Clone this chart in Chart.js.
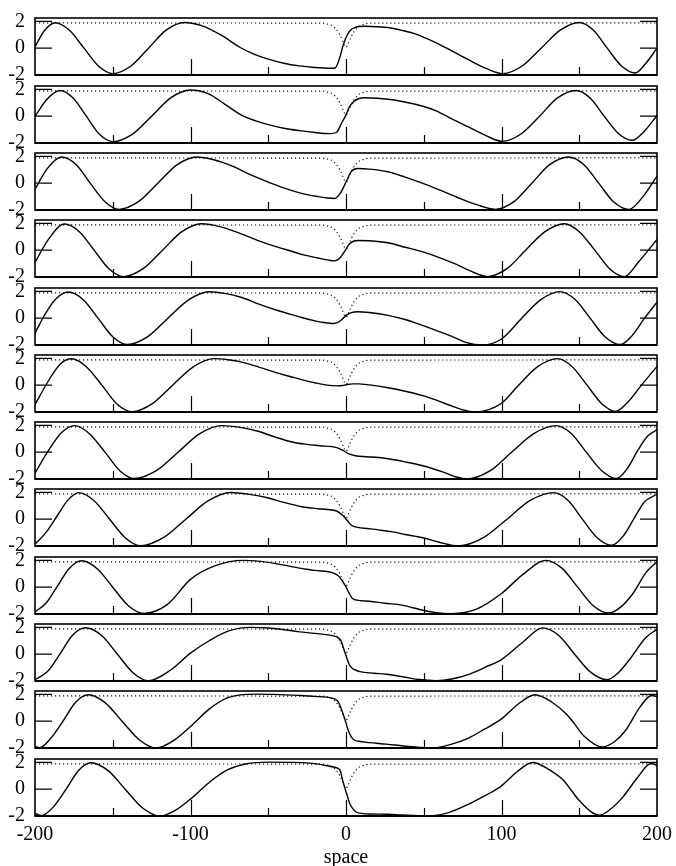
<!DOCTYPE html>
<html>
<head>
<meta charset="utf-8">
<script src="https://cdn.jsdelivr.net/npm/chart.js@4.4.1/dist/chart.umd.min.js"></script>
<style>
  body { margin: 0; background: #fff; }
  #wrap { position: relative; width: 676px; height: 866px; overflow: hidden; }
  #wrap canvas { position: absolute; left: 0; background: transparent; }
</style>
</head>
<body>
<div id="wrap"></div>
<script>
// solid curve of each panel (x = space, y = value)
const pos1 = [-200, -194, -187, -178, -168.5, -159, -150, -138.5, -127, -115.5, -104, -92, -80, -68, -60, -50, -40, -30, -20, -10, -7, -4, -2, 0, 2.5, 5.5, 12, 20, 28, 36, 45, 58, 68, 79, 90, 101, 113, 125.5, 138, 150, 159, 168, 177, 186, 193, 200];
const val1 = [0.1, 1.3, 1.9, 1.35, 0, -1.35, -1.9, -1.35, 0, 1.36, 1.92, 1.65, 0.95, 0.05, -0.4, -0.82, -1.12, -1.32, -1.44, -1.5, -1.48, -0.7, 0.15, 0.8, 1.3, 1.53, 1.63, 1.6, 1.52, 1.33, 1.05, 0.4, -0.2, -0.88, -1.5, -1.9, -1.35, 0, 1.36, 1.92, 1.36, 0, -1.31, -1.85, -1.1, 0];

const pos2 = [-200, -192, -184, -175.5, -167, -158.5, -150, -137.5, -125, -112.5, -100, -88, -78, -66, -58, -50, -40, -30, -20, -10, -6, -3, 0, 2, 5, 8, 12, 20, 30, 40, 50, 58, 68, 79, 90, 100.5, 112.5, 124.5, 136, 148, 157, 166, 175, 184, 192, 200];
const val2 = [0, 1.3, 1.92, 1.36, 0, -1.35, -1.9, -1.36, 0, 1.38, 1.95, 1.65, 0.9, 0, -0.35, -0.63, -0.9, -1.08, -1.22, -1.3, -1.2, -0.55, 0.1, 0.65, 1.1, 1.3, 1.37, 1.34, 1.22, 1.0, 0.72, 0.4, -0.2, -0.82, -1.45, -1.88, -1.33, 0, 1.36, 1.92, 1.36, 0, -1.27, -1.8, -1.1, 0.05];

const pos3 = [-200, -192, -183, -173.5, -164.5, -155, -146, -133.5, -121, -108.5, -96, -85, -73, -62, -50, -40, -28, -18, -12, -7.5, -3.5, 0, 3.5, 7.5, 15, 27, 38, 49, 60, 71, 84, 96, 108, 119.5, 131, 143, 153, 162.5, 172, 182, 191, 200];
const val3 = [-0.45, 1.1, 1.95, 1.38, 0, -1.38, -1.95, -1.38, 0, 1.38, 1.95, 1.75, 1.27, 0.65, 0.08, -0.35, -0.78, -1.0, -1.1, -1.14, -0.72, 0.08, 0.88, 1.09, 1.05, 0.85, 0.45, 0, -0.5, -1.03, -1.6, -1.95, -1.38, 0, 1.38, 1.95, 1.38, 0, -1.38, -1.95, -1.0, 0.53];

const pos4 = [-200, -192, -181, -171.5, -162, -152.5, -143, -130.5, -118, -105.5, -93, -80, -67, -56, -45, -35, -28, -18, -12, -7.5, -3.5, 0, 2.5, 7.5, 15, 27, 38, 50, 60, 71, 80, 91, 103.5, 115.5, 128, 140.5, 150, 160, 169.5, 179, 188, 200];
const val4 = [-0.93, 0.7, 1.95, 1.38, 0, -1.38, -1.97, -1.38, 0, 1.38, 1.97, 1.72, 1.2, 0.7, 0.27, -0.08, -0.33, -0.58, -0.72, -0.8, -0.53, 0.08, 0.5, 0.72, 0.7, 0.55, 0.22, -0.15, -0.55, -1.06, -1.55, -1.97, -1.38, 0, 1.38, 1.97, 1.38, 0, -1.38, -1.97, -0.9, 0.8];

const pos5 = [-200, -193, -186, -178.5, -169, -159.5, -150, -140.5, -127.5, -114.5, -101, -88, -78, -67, -56, -45, -36, -28, -20, -14.5, -7.5, -3.5, 0, 3.5, 7.5, 15, 27, 38, 50, 60, 68.5, 77, 88, 100, 113, 125.5, 137.5, 147.5, 157, 166.5, 176.5, 184, 192, 200];
const val5 = [-1.11, 0.4, 1.5, 1.95, 1.38, 0, -1.38, -1.96, -1.38, 0, 1.38, 1.97, 1.85, 1.54, 1.05, 0.61, 0.3, 0.03, -0.2, -0.32, -0.4, -0.19, 0.21, 0.42, 0.48, 0.42, 0.21, -0.1, -0.58, -1.0, -1.38, -1.8, -1.99, -1.55, 0, 1.4, 1.98, 1.38, 0, -1.38, -1.96, -1.3, 0, 1.19];

const pos6 = [-200, -192, -184, -176.5, -167, -157, -147.5, -137.5, -124.5, -111.5, -98, -85, -76, -67, -56, -45, -36, -28, -20, -12, -6, -2, 0, 4.5, 8, 15, 27, 38, 50, 58, 66, 74, 83, 100, 111, 123.5, 136, 145.5, 155, 164.5, 173.5, 181, 190, 200];
const val6 = [-1.46, 0.2, 1.55, 1.97, 1.38, 0, -1.38, -1.98, -1.38, 0, 1.38, 1.98, 1.9, 1.72, 1.35, 0.93, 0.65, 0.4, 0.18, 0.0, -0.05, -0.02, 0.03, 0.1, 0.1, 0.02, -0.19, -0.45, -0.8, -1.12, -1.46, -1.8, -1.99, -1.35, 0, 1.4, 1.98, 1.38, 0, -1.38, -1.95, -1.3, 0, 1.4];

const pos7 = [-200, -192, -183, -174.5, -165, -155, -145.5, -136, -122, -108, -94, -80, -68, -56, -45, -34, -25, -17, -6, -2, 2, 6, 13, 21, 30, 38, 50, 63, 71, 78, 92.5, 106.5, 121, 135, 145, 154.5, 164.5, 174, 181, 188, 194, 200];
const val7 = [-1.56, 0, 1.45, 1.98, 1.38, 0, -1.38, -1.96, -1.38, 0, 1.38, 1.98, 1.85, 1.54, 1.1, 0.74, 0.58, 0.48, 0.34, 0.13, -0.13, -0.27, -0.34, -0.4, -0.55, -0.72, -1.03, -1.51, -1.85, -1.99, -1.4, 0, 1.4, 1.98, 1.38, 0, -1.38, -1.96, -1.2, 0.2, 1.2, 1.67];

const pos8 = [-200, -193, -186, -179, -172, -162, -152, -142, -132, -117.5, -103, -88.5, -74, -62, -50.5, -40, -28.5, -18, -12, -6, -2, 0.7, 3.5, 7.5, 14, 21, 30, 38, 50, 60, 72.5, 88, 103.5, 118.5, 133.5, 143, 152, 161.5, 171, 178, 185, 192, 200];
const val8 = [-1.86, -1.0, 0.2, 1.4, 1.98, 1.38, 0, -1.38, -1.98, -1.38, 0, 1.38, 1.99, 1.85, 1.6, 1.25, 0.93, 0.78, 0.72, 0.61, 0.27, -0.08, -0.45, -0.61, -0.7, -0.8, -0.95, -1.14, -1.4, -1.72, -1.99, -1.4, 0, 1.4, 1.98, 1.38, 0, -1.38, -1.94, -1.3, 0, 1.3, 1.86];

const pos9 = [-200, -193, -186, -178, -170, -160, -150, -140, -130, -115, -100, -84, -66, -55, -45, -30, -20, -8, -5, -2, 0, 2, 4, 7, 15, 25, 36, 50, 58, 68, 83.5, 100, 114, 128.5, 139, 149, 159, 169, 177, 184.5, 193, 200];
const val9 = [-1.84, -1.2, 0, 1.4, 1.97, 1.38, 0, -1.38, -1.95, -1.3, 0.58, 1.6, 2.0, 1.92, 1.76, 1.42, 1.25, 1.05, 0.85, 0.4, 0.02, -0.45, -0.82, -0.97, -1.05, -1.2, -1.34, -1.74, -1.9, -1.97, -1.66, -0.47, 0.97, 2.0, 1.4, 0, -1.38, -1.93, -1.45, -0.47, 1.1, 1.9];

const pos10 = [-200, -192, -184, -176, -167.5, -157, -147, -137, -127, -113, -100, -88, -75, -61, -50, -42, -30, -20, -8, -5, -3.5, -2, -0.7, 0, 2, 4, 6, 9, 18, 26, 38, 47, 58, 68, 79, 90, 100, 113.5, 126.5, 137, 147, 157.5, 168, 175, 182, 193, 200];
const val10 = [-1.9, -1.3, 0, 1.4, 1.97, 1.38, 0, -1.38, -1.98, -1.2, 0.08, 1.0, 1.75, 2.0, 1.95, 1.86, 1.66, 1.55, 1.36, 1.22, 1.06, 0.6, 0.13, -0.1, -0.75, -1.05, -1.18, -1.3, -1.42, -1.5, -1.72, -1.89, -1.97, -1.85, -1.5, -0.95, -0.4, 0.87, 1.96, 1.38, 0, -1.36, -1.9, -1.4, -0.45, 1.26, 1.85];

const pos11 = [-200, -197, -190, -182, -174, -165.5, -155, -144, -133, -122, -111, -100, -88, -76, -64, -56, -47, -30, -20, -9, -6.4, -4.8, -2.1, 0, 1, 3.3, 5.5, 8, 15, 26, 37, 47, 56, 67, 78, 89, 100, 111, 121.5, 132, 142, 147, 153, 165, 173, 180, 189, 196.5, 200];
const val11 = [-1.9, -1.97, -1.3, 0, 1.4, 1.97, 1.38, 0, -1.38, -2.0, -1.45, -0.39, 0.9, 1.75, 2.0, 2.02, 2.0, 1.92, 1.85, 1.72, 1.6, 1.4, 0.61, -0.13, -0.55, -1.15, -1.42, -1.5, -1.6, -1.71, -1.85, -1.95, -2.0, -1.75, -1.3, -0.6, 0.17, 1.3, 1.97, 1.45, 0.5, -0.2, -1.1, -1.92, -1.5, -0.66, 1.05, 1.92, 1.84];

const pos12 = [-200, -196, -188, -180, -172, -164, -153, -142, -131, -119.5, -110, -100, -88, -76, -64, -50, -34, -19, -8, -4, -2, -1, 0, 1, 2, 4, 6.4, 10, 15, 27, 36, 53, 66, 79, 90, 100, 110, 120, 130, 139.5, 145, 150, 163, 170, 178, 188, 196, 200];
const val12 = [-1.8, -1.97, -1.3, 0, 1.4, 1.97, 1.38, 0, -1.38, -2.0, -1.6, -0.74, 0.5, 1.45, 1.9, 2.02, 2.0, 1.89, 1.65, 1.45, 0.6, 0.2, -0.2, -0.55, -0.95, -1.4, -1.7, -1.8, -1.85, -1.87, -1.93, -2.0, -1.75, -1.11, -0.45, 0.25, 1.3, 1.99, 1.5, 0.7, -0.1, -0.85, -1.94, -1.5, -0.59, 0.95, 1.91, 1.78];

// dotted profile (same in every panel), dips at the origin
const dipPos = [-200, -16, -12, -9, -7, -5, -3.5, -2, -1, 0, 1, 2, 3.5, 5, 7, 9, 12, 16, 200];
const dipVal = [1.88, 1.87, 1.8, 1.68, 1.5, 1.2, 0.88, 0.5, 0.22, 0.08, 0.22, 0.5, 0.88, 1.2, 1.5, 1.68, 1.8, 1.87, 1.88];

// axes
const xLabels = [-200, -100, 0, 100, 200];
const xMajor = [-100, 0, 100];
const xMinor = [-150, -50, 50, 150];
const yLabels = [-2, 0, 2];

const panels = [
  [pos1, val1], [pos2, val2], [pos3, val3], [pos4, val4],
  [pos5, val5], [pos6, val6], [pos7, val7], [pos8, val8],
  [pos9, val9], [pos10, val10], [pos11, val11], [pos12, val12]
];

const SERIF = "'Liberation Serif', 'Times New Roman', serif";
const PANEL_TOP = 18.3, PANEL_STEP = 67.3, PANEL_H = 57, PAD = 12;

// box around each panel plus inward tick marks (gnuplot look)
const frame = {
  id: 'frame',
  afterDatasetsDraw(chart) {
    const { ctx, chartArea: a, scales: { x, y } } = chart;
    ctx.save();
    ctx.strokeStyle = '#000';
    ctx.lineWidth = 1.2;
    ctx.beginPath();
    xMajor.forEach(v => {
      const px = Math.round(x.getPixelForValue(v)) + 0.5;
      ctx.moveTo(px, a.bottom); ctx.lineTo(px, a.bottom - 16);
    });
    xMinor.forEach(v => {
      const px = Math.round(x.getPixelForValue(v)) + 0.5;
      ctx.moveTo(px, a.bottom); ctx.lineTo(px, a.bottom - 8);
    });
    yLabels.forEach(v => {
      const py = y.getPixelForValue(v);
      ctx.moveTo(a.left, py); ctx.lineTo(a.left + 17, py);
      ctx.moveTo(a.right, py); ctx.lineTo(a.right - 17, py);
    });
    ctx.stroke();
    ctx.lineWidth = 1.6;
    ctx.strokeRect(a.left, a.top, a.width, a.height);
    ctx.lineWidth = 2.2;
    ctx.beginPath();
    ctx.moveTo(a.left, a.bottom); ctx.lineTo(a.right, a.bottom);
    ctx.stroke();
    ctx.restore();
  }
};

const wrap = document.getElementById('wrap');

panels.forEach(([pos, val], i) => {
  const last = i === panels.length - 1;
  const top = Math.round(PANEL_TOP + i * PANEL_STEP) - PAD;
  const h = last ? 866 - top : PANEL_H + 2 * PAD;
  const canvas = document.createElement('canvas');
  canvas.width = 676;
  canvas.height = h;
  canvas.style.top = top + 'px';
  canvas.style.zIndex = String(panels.length - i);
  wrap.appendChild(canvas);

  new Chart(canvas.getContext('2d'), {
    type: 'line',
    data: {
      datasets: [
        {
          data: pos.map((x, j) => ({ x, y: val[j] })),
          borderColor: '#000',
          borderWidth: 1.4,
          pointRadius: 0,
          cubicInterpolationMode: 'monotone'
        },
        {
          data: dipPos.map((x, j) => ({ x, y: dipVal[j] })),
          borderColor: '#111',
          borderWidth: 1.2,
          borderDash: [1.2, 2.8],
          pointRadius: 0,
          cubicInterpolationMode: 'monotone'
        }
      ]
    },
    options: {
      responsive: false,
      animation: false,
      events: [],
      layout: { padding: { top: PAD, bottom: last ? 0 : PAD, left: 0, right: 19 } },
      plugins: { legend: { display: false }, tooltip: { enabled: false } },
      scales: {
        x: {
          type: 'linear',
          min: -200,
          max: 200,
          display: last,
          afterBuildTicks: s => { s.ticks = xLabels.map(v => ({ value: v })); },
          afterFit: s => {
            s.height = last ? 50 : 0;
            s.paddingLeft = 0;
            s.paddingRight = 0;
          },
          grid: { display: false, drawTicks: false },
          border: { display: false },
          ticks: {
            color: '#000',
            font: { family: SERIF, size: 20 },
            padding: 7,
            maxRotation: 0,
            autoSkip: false,
            callback: v => String(v)
          },
          title: {
            display: true,
            text: 'space',
            color: '#000',
            font: { family: SERIF, size: 20, lineHeight: 0.85 },
            padding: { top: 0, bottom: 0 }
          }
        },
        y: {
          min: -2,
          max: 2.25,
          afterBuildTicks: s => { s.ticks = yLabels.map(v => ({ value: v })); },
          afterFit: s => {
            s.width = 35;
            s.paddingTop = 0;
            s.paddingBottom = 0;
          },
          grid: { display: false, drawTicks: false },
          border: { display: false },
          ticks: {
            color: '#000',
            font: { family: SERIF, size: 20 },
            padding: 10,
            autoSkip: false,
            callback: v => String(v)
          }
        }
      }
    },
    plugins: [frame]
  });
});
</script>
</body>
</html>
